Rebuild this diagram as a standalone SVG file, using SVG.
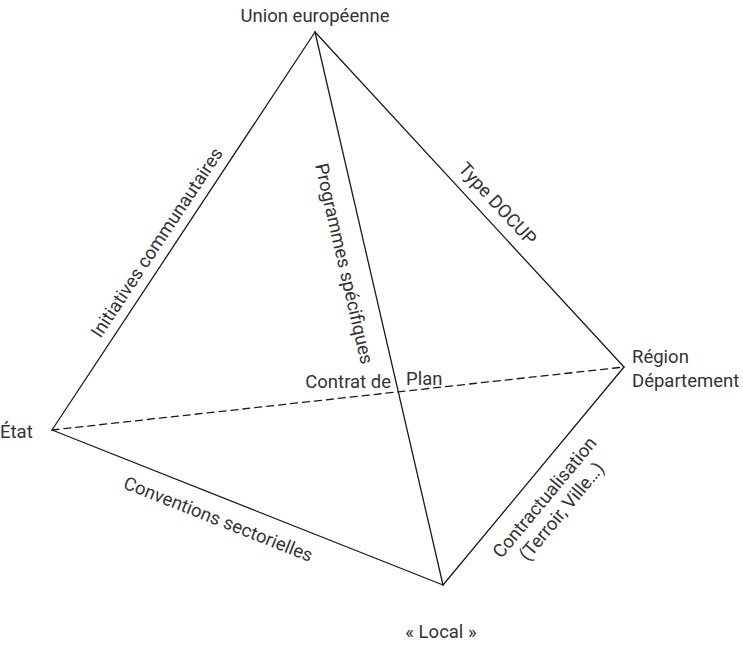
<svg xmlns="http://www.w3.org/2000/svg" width="743" height="645" viewBox="0 0 743 645">
<style>
.l{stroke:#1a1a1a;stroke-width:1.3;fill:none;stroke-linecap:round}
.d{stroke-dasharray:7 5}
text{font-family:Roboto,"Liberation Sans",sans-serif;font-size:18.5px;fill:#333}
.m{text-anchor:middle}
</style>
<rect width="743" height="645" fill="#fff"/>
<g id="connectors">
<line class="l" x1="315" y1="32" x2="52" y2="430"/>
<line class="l" x1="315" y1="32" x2="624" y2="367"/>
<line class="l" x1="315" y1="32" x2="443" y2="585"/>
<line class="l" x1="52" y1="430" x2="443" y2="585"/>
<line class="l" x1="624" y1="367" x2="443" y2="585"/>
<line class="l d" x1="52" y1="430" x2="624" y2="367"/>
<text class="m" transform="translate(162,246) rotate(-56.5)">Initiatives communautaires</text>
<text class="m" transform="translate(338,265) rotate(77)">Programmes spécifiques</text>
<text class="m" transform="translate(493,208) rotate(47.3)">Type DOCUP</text>
<text class="m" transform="translate(216,525) rotate(21.6)">Conventions sectorielles</text>
<text class="m" transform="translate(549.5,501.3) rotate(-50.3)"><tspan x="0" y="0">Contractualisation</tspan><tspan x="0" y="22">(Terroir, Ville…)</tspan></text>
<text x="391" y="388" text-anchor="end">Contrat de</text>
<text x="406" y="385">Plan</text>
</g>
<g id="union"><text class="m" x="315" y="22">Union européenne</text></g>
<g id="region"><text x="632" y="363">Région</text><text x="632" y="387">Département</text></g>
<g id="etat"><text x="0" y="438">État</text></g>
<g id="local"><text class="m" x="441" y="638">« Local »</text></g>
</svg>
